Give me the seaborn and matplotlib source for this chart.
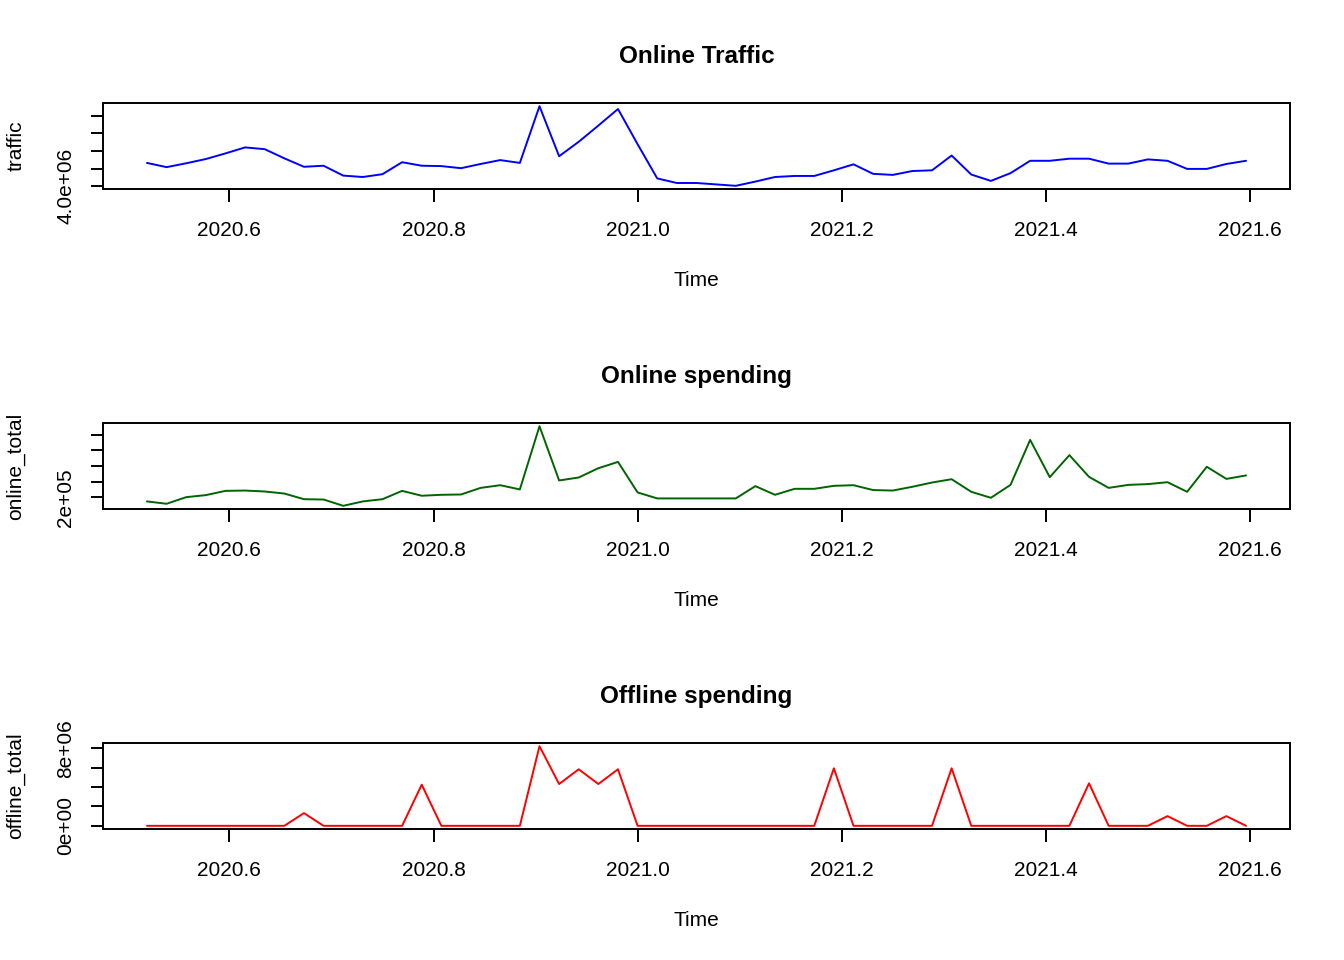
import numpy as np
import seaborn as sns
import matplotlib
matplotlib.use("Agg")
import matplotlib.pyplot as plt

# weekly series, frequency 52, starting week 28 of 2020
weeks = np.arange(28, 85)
time = 2020 + (weeks - 1) / 52

traffic = [4.66e6, 4.54e6, 4.65e6, 4.77e6, 4.93e6, 5.10e6, 5.05e6, 4.79e6, 4.55e6, 4.58e6,
           4.30e6, 4.26e6, 4.34e6, 4.68e6, 4.58e6, 4.57e6, 4.51e6, 4.63e6, 4.74e6, 4.66e6,
           6.27e6, 4.85e6, 5.26e6, 5.72e6, 6.19e6, 5.19e6, 4.22e6, 4.09e6, 4.09e6, 4.05e6,
           4.01e6, 4.13e6, 4.26e6, 4.29e6, 4.29e6, 4.45e6, 4.62e6, 4.35e6, 4.32e6, 4.43e6,
           4.45e6, 4.87e6, 4.33e6, 4.15e6, 4.37e6, 4.72e6, 4.72e6, 4.78e6, 4.78e6, 4.64e6,
           4.64e6, 4.76e6, 4.72e6, 4.49e6, 4.49e6, 4.63e6, 4.72e6]

online_total = [1.75e5, 1.60e5, 2.02e5, 2.15e5, 2.42e5, 2.44e5, 2.38e5, 2.25e5, 1.89e5, 1.87e5,
                1.47e5, 1.75e5, 1.89e5, 2.42e5, 2.11e5, 2.17e5, 2.19e5, 2.61e5, 2.78e5, 2.51e5,
                6.53e5, 3.08e5, 3.27e5, 3.86e5, 4.26e5, 2.32e5, 1.94e5, 1.94e5, 1.94e5, 1.94e5,
                1.94e5, 2.72e5, 2.17e5, 2.55e5, 2.55e5, 2.74e5, 2.78e5, 2.47e5, 2.44e5, 2.68e5,
                2.95e5, 3.16e5, 2.36e5, 1.98e5, 2.80e5, 5.66e5, 3.29e5, 4.69e5, 3.31e5, 2.61e5,
                2.80e5, 2.85e5, 2.97e5, 2.36e5, 3.95e5, 3.18e5, 3.40e5]

offline_total = [0, 0, 0, 0, 0, 0, 0, 0, 1.31e6, 0,
                 0, 0, 0, 0, 4.24e6, 0, 0, 0, 0, 0,
                 8.21e6, 4.31e6, 5.83e6, 4.31e6, 5.83e6, 0, 0, 0, 0, 0,
                 0, 0, 0, 0, 0, 5.93e6, 0, 0, 0, 0,
                 0, 5.93e6, 0, 0, 0, 0, 0, 0, 4.38e6, 0,
                 0, 0, 1.00e6, 0, 0, 1.00e6, 0]

x_ticks = [2020.6, 2020.8, 2021.0, 2021.2, 2021.4, 2021.6]

panels = [
    ("Online Traffic", "traffic", traffic, "#0000FF",
     [4.0e6, 4.5e6, 5.0e6, 5.5e6, 6.0e6], ["4.0e+06", "", "", "", ""]),
    ("Online spending", "online_total", online_total, "#006400",
     [2e5, 3e5, 4e5, 5e5, 6e5], ["2e+05", "", "", "", ""]),
    ("Offline spending", "offline_total", offline_total, "#FF0000",
     [0, 2e6, 4e6, 6e6, 8e6], ["0e+00", "", "", "", "8e+06"]),
]

sns.set_theme(style="white")
plt.rcParams["font.family"] = ["Liberation Sans", "DejaVu Sans"]
plt.rcParams["text.color"] = "black"
plt.rcParams["axes.labelcolor"] = "black"
plt.rcParams["axes.titlecolor"] = "black"

fig = plt.figure(figsize=(13.44, 9.6), dpi=100)
W, H = 1344, 960
left, right = 103, 1290
tops = [103, 423, 743]
box_h = 86

for (title, ylab, vals, col, yt, ytl), top in zip(panels, tops):
    ax = fig.add_axes([left / W, 1 - (top + box_h) / H, (right - left) / W, box_h / H])
    sns.lineplot(x=time, y=vals, ax=ax, color=col, linewidth=1.4)
    ax.margins(x=0.04, y=0.04)
    for s in ax.spines.values():
        s.set_color("black")
        s.set_linewidth(1.4)
    ax.set_xticks(x_ticks)
    ax.set_xticklabels([f"{t:.1f}" for t in x_ticks])
    ax.set_yticks(yt)
    ax.set_yticklabels(ytl, rotation=90, va="center")
    ax.tick_params(axis="both", direction="out", length=9, width=1.4,
                   color="black", labelsize=15, labelcolor="black", left=True, bottom=True)
    ax.tick_params(axis="x", pad=14)
    ax.tick_params(axis="y", pad=11)
    ax.set_title(title, fontsize=17.5, fontweight="bold", pad=29, color="black")
    ax.set_xlabel("Time", fontsize=15, color="black")
    ax.set_ylabel(ylab, fontsize=15, color="black")
    ax.xaxis.label.set_va("center")
    ax.xaxis.set_label_coords(0.5, -92 / box_h)
    ax.yaxis.label.set_va("center")
    ax.yaxis.set_label_coords(-87 / (right - left), 0.5)

fig.savefig("out.png", dpi=100, facecolor="white")
